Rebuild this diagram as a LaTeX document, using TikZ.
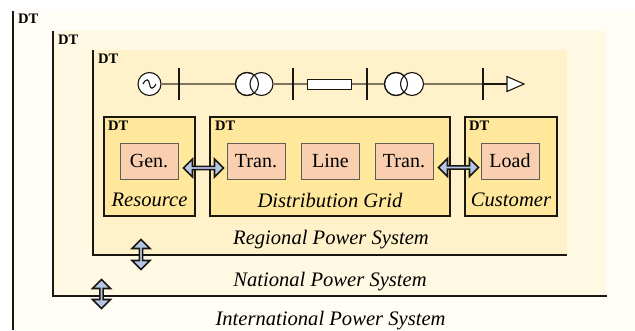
\documentclass[tikz,border=0pt]{standalone}
\usepackage{fontspec}
\setmainfont{Liberation Serif}
\usetikzlibrary{positioning}
\usetikzlibrary{shapes.arrows}
\definecolor{layerA}{HTML}{FFFDF6}
\definecolor{layerB}{HTML}{FFF8E3}
\definecolor{layerC}{HTML}{FFF1CA}
\definecolor{layerD}{HTML}{FFE79B}
\definecolor{devbox}{HTML}{F9CFB0}
\definecolor{linkblue}{HTML}{B4C7E7}
\definecolor{inkblack}{HTML}{1A1710}
\definecolor{wire}{HTML}{7F7660}
\tikzset{
  dtlabel/.style={font=\bfseries\fontsize{14.5}{14.5}\selectfont,inner sep=0pt,anchor=north west},
  caption/.style={font=\itshape\fontsize{20.6}{20.6}\selectfont,inner sep=0pt},
  wall/.style={line width=2.4pt,color=inkblack},
  zonebox/.style={draw=inkblack,line width=2.6pt,fill=layerD,minimum height=99pt,inner sep=0pt},
  devnode/.style={draw=inkblack!70,line width=1pt,fill=devbox,minimum width=58pt,minimum height=36pt,inner sep=0pt,font=\fontsize{20}{20}\selectfont},
  linkarrow/.style={draw=inkblack,line width=1.6pt,fill=linkblue,double arrow,inner sep=0pt,
    minimum height=#1,minimum width=18pt,double arrow head extend=3.6pt},
  sym/.style={draw=inkblack,line width=1.1pt,fill=white,circle,minimum size=23pt,inner sep=0pt},
  busbar/.style={fill=inkblack,minimum width=1.6pt,minimum height=32pt,inner sep=0pt},
  wireline/.style={wire,line width=1.4pt},
}
\begin{document}
\begin{tikzpicture}[x=1pt,y=-1pt]
\useasboundingbox (0,0) rectangle (635,330);

% nested layers
\fill[layerA] (13,10) rectangle (635,330);
\fill[layerB] (53,31) rectangle (606,296);
\fill[layerC] (93,50) rectangle (567,255);

\coordinate (intTop) at (13,11);
\coordinate (intBot) at (13,330);
\coordinate (natTop) at (53,31);
\coordinate (natCor) at (53,296);
\coordinate (natEnd) at (607,296);
\coordinate (regTop) at (93,50);
\coordinate (regCor) at (93,255);
\coordinate (regEnd) at (567,255);
\draw[wall] (intTop) -- (intBot);
\draw[wall] (natTop) -- (natCor) -- (natEnd);
\draw[wall] (regTop) -- (regCor) -- (regEnd);

\node[dtlabel] (dtInt) at (18,14) {DT};
\node[dtlabel] (dtNat) at (58,34.5) {DT};
\node[dtlabel] (dtReg) at (98,54) {DT};

% zones
\node[zonebox,minimum width=91pt] (resource) at (149.5,166.5) {};
\node[zonebox,minimum width=240pt] (grid) at (330,166.5) {};
\node[zonebox,minimum width=92pt] (customer) at (511,166.5) {};
\node[dtlabel] at (108,121) (dtRes) {DT};
\node[dtlabel] at (215,121) (dtGrid) {DT};
\node[dtlabel] at (469,121) (dtCus) {DT};

\node[devnode] (gen) at (149,161) {Gen.};
\node[devnode] (tranA) at (256,161) {Tran.};
\node[devnode] (line) at (330.5,161) {Line};
\node[devnode] (tranB) at (404,161) {Tran.};
\node[devnode] (load) at (510,161) {Load};

\node[caption] (capRes) at (149.5,200) {Resource};
\node[caption] (capGrid) at (330,200) {Distribution Grid};
\node[caption] (capCus) at (511,200) {Customer};
\node[caption] (capReg) at (331,240) {Regional Power System};
\node[caption] (capNat) at (330,281.5) {National Power System};
\node[caption] (capInt) at (330.5,321) {International Power System};

% one-line scheme
\node[sym] (src) at (149.5,84) {};
\draw[line width=1.1pt,color=inkblack] (143,84) .. controls (146,78) and (149,79) .. (149.5,84) .. controls (150,89) and (153,90) .. (156,84);
\node[busbar] (busA) at (179,84) {};
\node[busbar] (busB) at (293,84) {};
\node[busbar] (busC) at (367,84) {};
\node[busbar] (busD) at (483,84) {};
\node[sym] (trA1) at (247,84) {};
\node[sym] (trA2) at (261.5,84) {};
\draw[line width=1.1pt,color=inkblack] (trA1) circle (11.5);
\node[sym] (trB1) at (396,84) {};
\node[sym] (trB2) at (412,84) {};
\draw[line width=1.1pt,color=inkblack] (trB1) circle (11.5);
\node[draw=inkblack,line width=1pt,fill=white,minimum width=44.5pt,minimum height=10pt,inner sep=0pt] (imped) at (329.3,84) {};
\draw[wireline] (src) -- (busA);
\draw[wireline] (busA) -- (trA1);
\draw[wireline] (trA2) -- (busB);
\draw[wireline] (busB) -- (imped);
\draw[wireline] (imped) -- (busC);
\draw[wireline] (busC) -- (trB1);
\draw[wireline] (trB2) -- (busD);
\coordinate (loadBase) at (507,84);
\coordinate (loadTip) at (524,84);
\coordinate (loadUp) at (507,76.5);
\coordinate (loadDn) at (507,91.5);
\draw[line width=1.4pt,color=inkblack] (busD) -- (loadBase);
\draw[line width=1.1pt,color=inkblack,fill=white] (loadUp) -- (loadTip) -- (loadDn) -- cycle;

% links
\node[linkarrow=40pt] (linkA) at (203.5,168) {};
\node[linkarrow=40pt] (linkB) at (458.5,167.5) {};
\node[linkarrow=30pt,rotate=90] (linkC) at (141,254.5) {};
\node[linkarrow=29pt,rotate=90] (linkD) at (101.5,294) {};
\end{tikzpicture}
\end{document}
